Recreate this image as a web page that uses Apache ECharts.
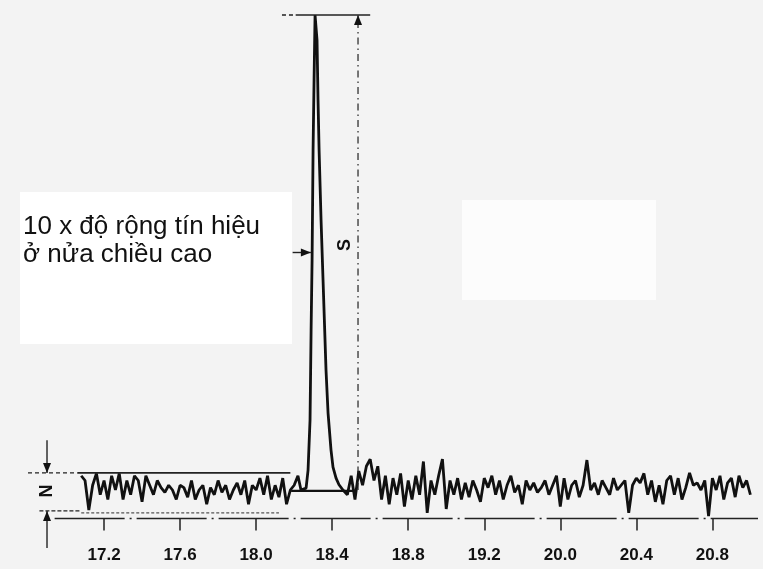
<!DOCTYPE html>
<html>
<head>
<meta charset="utf-8">
<script src="https://cdn.jsdelivr.net/npm/echarts@6/dist/echarts.min.js"></script>
<style>
  html, body { margin: 0; padding: 0; background: #f3f3f3; }
  #chart { width: 763px; height: 569px; }
</style>
</head>
<body>
<div id="chart"></div>
<script>
// tick labels of the time axis, placed at evenly spaced positions
const tickLabels = ['17.2', '17.6', '18.0', '18.4', '18.8', '19.2', '20.0', '20.4', '20.8']
const tickPositions = [0, 1, 2, 3, 4, 5, 6, 7, 8]

// baseline noise, sampled every 0.05 axis units
const noiseStep = 0.05
const leftStart = -0.3
const leftNoise = [3, 2, -4.2, 1, 3.5, -1, 2, -2, 3, 0, 3.5, -2, 2, -1, 3, 2, -2.5, 3, 1, -1,
  2, 0.5, -0.5, 1, 0, -2, 1, 0.5, -1.5, 2, -2, 0, 1, -3, 0.5, -1, 2, -0.5, 1, -2,
  0, 1.5, -1, 2, -3, 1, 0, 2.5, -1, 3, -2, 1, -1.5, 2.5, -3, 0, 1, 3]
const rightStart = 3.2
const rightNoise = [-1, 3, -2, 4, 1, 5, 6.5, 2, 5, -2, 3, -3, 2.5, -1, 3.5, -3.5, 2, -2, 3, -1,
  6, -4.8, 2, -1, 3, 6.5, -4, 2, -1, 2.5, -2, 1.5, -1.5, 2, 0, -2.5, 2.5, 0.5, 3, -1,
  2, -2, 1, 3, -0.5, 1, -3, 2, 0, 1.5, -0.5, 0.5, 2, -1, 1, 3, -3.5, 2.5, -2, 1,
  2, -1.5, 1, 6.3, 0, 1.5, -1, 2, 0.5, -1, 2.5, 0, 1, 2, -4.8, 1, 2.5, 1.5, 3.5, -1,
  2, -2.5, 1, -3, 2, 3, -1, 2.5, -2, 0.5, 3.6, 1, 1.5, 0, 2, -5.5, 2.5, 0, 3, -2,
  1.5, 2.5, -1.5, 3, 0.5, 2, -1]

// the signal peak [time position, height]
const peakPoints = [[2.59, 0], [2.657, 0.4], [2.683, 4.2], [2.709, 14.7], [2.723, 33.7],
  [2.736, 48.4], [2.749, 71.6], [2.762, 86.3], [2.775, 100], [2.801, 94.7], [2.814, 82.1],
  [2.828, 71.6], [2.854, 56.8], [2.88, 44.2], [2.919, 25.3], [2.946, 16.2], [2.985, 8.4],
  [3.011, 4.8], [3.051, 2.5], [3.09, 1.1], [3.142, 0]]

// integration baseline under the peak
const peakBase = [[2.46, -0.2], [3.29, -0.2]]

// noise band limits (N) and signal height (S)
const noiseTop = 3.6
const noiseBottom = -4.4
const peakHeight = 100
const halfHeight = 50

const trace = []
leftNoise.forEach((v, i) => trace.push([leftStart + i * noiseStep, v]))
peakPoints.forEach(p => trace.push(p))
rightNoise.forEach((v, i) => trace.push([rightStart + i * noiseStep, v]))

const chart = echarts.init(document.getElementById('chart'))

chart.setOption({
  backgroundColor: '#f3f3f3',
  animation: false,
  grid: {left: 28, right: 5, top: 15, bottom: 50.5},
  xAxis: {
    type: 'value',
    min: -1,
    max: 8.6,
    splitLine: {show: false},
    axisLine: {show: false, onZero: false},
    axisTick: {
      show: true,
      customValues: tickPositions,
      length: 12,
      lineStyle: {color: '#222', width: 1.5}
    },
    axisLabel: {
      customValues: tickPositions,
      formatter: v => tickLabels[Math.round(v)],
      margin: 28,
      fontSize: 17,
      fontWeight: 'bold',
      color: '#111',
      fontFamily: 'Liberation Sans, Arial, sans-serif'
    }
  },
  yAxis: {type: 'value', min: -6, max: 100, show: false},
  series: [
    {
      type: 'line',
      data: trace,
      symbol: 'none',
      lineStyle: {color: '#111', width: 2.8},
      z: 5
    },
    {
      type: 'line',
      data: peakBase,
      symbol: 'none',
      lineStyle: {color: '#111', width: 2.2},
      z: 4
    }
  ]
})

const P = (x, y) => chart.convertToPixel({gridIndex: 0}, [x, y])

const line = (a, b, opts) => ({
  type: 'line',
  z: 10,
  shape: {x1: a[0], y1: a[1], x2: b[0], y2: b[1]},
  style: Object.assign({stroke: '#222', lineWidth: 1.4}, opts || {})
})

const head = (tip, dir) => {
  const [x, y] = tip
  const L = 10, W = 4
  let pts
  if (dir === 'down') pts = [[x, y], [x - W, y - L], [x + W, y - L]]
  else if (dir === 'up') pts = [[x, y], [x - W, y + L], [x + W, y + L]]
  else pts = [[x, y], [x - L, y - W], [x - L, y + W]]
  return {type: 'polygon', z: 11, shape: {points: pts}, style: {fill: '#111'}}
}

const nX = -0.75
const sX = 3.34
const axisY = -6

const g = [
  // white patches of the scanned page
  {type: 'rect', z: 0, shape: {x: 20, y: 192, width: 272, height: 152}, style: {fill: '#ffffff'}},
  {type: 'rect', z: 0, shape: {x: 462, y: 200, width: 194, height: 100}, style: {fill: '#fcfcfc'}},
  // time axis line
  line(P(-0.65, axisY), P(8.6, axisY), {lineWidth: 1.5, lineDash: [70, 5, 2, 5]}),
  // noise band limits
  line(P(-1.0, noiseTop), P(-0.35, noiseTop), {lineDash: [4, 3]}),
  line(P(-0.35, noiseTop), P(2.45, noiseTop), {lineWidth: 1.6}),
  line(P(-0.85, noiseBottom), P(-0.3, noiseBottom), {lineDash: [4, 2]}),
  line(P(-0.3, noiseBottom - 0.4), P(2.3, noiseBottom - 0.4), {lineDash: [3, 2], lineWidth: 1.2, stroke: '#555'}),
  // N arrows
  line(P(nX, 10.5), P(nX, noiseTop)),
  head(P(nX, noiseTop), 'down'),
  line(P(nX, -12.2), P(nX, noiseBottom)),
  head(P(nX, noiseBottom), 'up'),
  {
    type: 'text', z: 12, x: P(nX, -0.2)[0], y: P(nX, -0.2)[1], rotation: Math.PI / 2,
    style: {text: 'N', fontSize: 18, fontWeight: 'bold', fill: '#111', align: 'center', verticalAlign: 'middle',
      fontFamily: 'Liberation Sans, Arial, sans-serif'}
  },
  // S: peak height
  line(P(2.34, peakHeight), P(2.52, peakHeight), {lineDash: [4, 3]}),
  line(P(2.52, peakHeight), P(3.5, peakHeight), {lineWidth: 1.6}),
  line(P(sX, 0), P(sX, peakHeight), {lineWidth: 1.2, lineDash: [7, 4, 1.5, 4]}),
  head(P(sX, peakHeight), 'up'),
  {
    type: 'text', z: 12, x: P(3.17, 51.6)[0], y: P(3.17, 51.6)[1], rotation: Math.PI / 2,
    style: {text: 'S', fontSize: 18, fontWeight: 'bold', fill: '#111', align: 'center', verticalAlign: 'middle',
      fontFamily: 'Liberation Sans, Arial, sans-serif'}
  },
  // width at half height
  line(P(2.48, halfHeight), P(2.72, halfHeight), {lineWidth: 1.4}),
  head(P(2.72, halfHeight), 'right'),
  {
    type: 'text', z: 12, x: 23, y: 227,
    style: {text: '10 x độ rộng tín hiệu', fontSize: 26, fill: '#111', verticalAlign: 'middle',
      fontFamily: 'Liberation Sans, Arial, sans-serif'}
  },
  {
    type: 'text', z: 12, x: 23, y: 255,
    style: {text: 'ở nửa chiều cao', fontSize: 26, fill: '#111', verticalAlign: 'middle',
      fontFamily: 'Liberation Sans, Arial, sans-serif'}
  }
]

chart.setOption({graphic: g})
</script>
</body>
</html>
